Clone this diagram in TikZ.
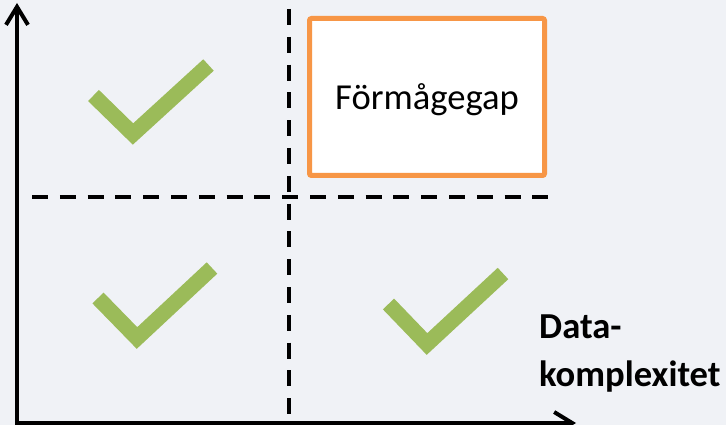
\documentclass[tikz,border=0pt]{standalone}
\usepackage{fontspec}
\setmainfont{Carlito}
\usetikzlibrary{arrows.meta}
\definecolor{bgcol}{HTML}{F0F2F6}
\definecolor{chkgreen}{HTML}{9BBB59}
\definecolor{gaporange}{HTML}{F79646}
\tikzset{
  axisline/.style={line width=4pt, -{Straight Barb[length=18pt,width=22pt]}},
  divider/.style={line width=3.6pt, dash pattern=on 16pt off 11.8pt},
  checkmark/.style={draw=chkgreen, line width=15.5pt, line join=miter, line cap=butt},
  gapbox/.style={draw=gaporange, line width=5pt, fill=white, rounded corners=2pt, minimum width=235pt, minimum height=157pt, inner sep=0pt},
  bigtext/.style={font=\fontsize{36.6}{48}\selectfont, inner sep=0pt}
}
\begin{document}
\begin{tikzpicture}[x=1pt,y=-1pt]
\fill[bgcol] (0,0) rectangle (726,425);
\useasboundingbox (0,0) rectangle (726,425);
% axes
\coordinate (origin) at (17,423);
\coordinate (ytip) at (17,3);
\coordinate (xtip) at (576,423);
\draw[axisline] (origin |- 0,427) -- (ytip);
\draw[axisline] (origin) -- (xtip);
% dividers
\coordinate (vtop) at (289,9);
\coordinate (vbot) at (289,425);
\coordinate (hleft) at (32,197);
\coordinate (hright) at (553,197);
\draw[divider] (vtop) -- (vbot);
\draw[divider] (hleft) -- (hright);
% gap box
\node[gapbox] (gap) at (427,97) {};
\node[bigtext, anchor=base] (gaptext) at ([yshift=-13pt]gap.center) {Förmågegap};
% checkmarks
\draw[checkmark] (93.5,95.5) -- (133,134) -- (208.5,65);
\draw[checkmark] (98,298) -- (137,338) -- (212,268);
\draw[checkmark] (388.5,304) -- (427,344) -- (503,273.5);
% axis label
\node[bigtext, anchor=base west, align=left, font=\fontsize{36.6}{48}\selectfont\bfseries] (xlabel) at (539,386) {Data-\\komplexitet};
\end{tikzpicture}
\end{document}
